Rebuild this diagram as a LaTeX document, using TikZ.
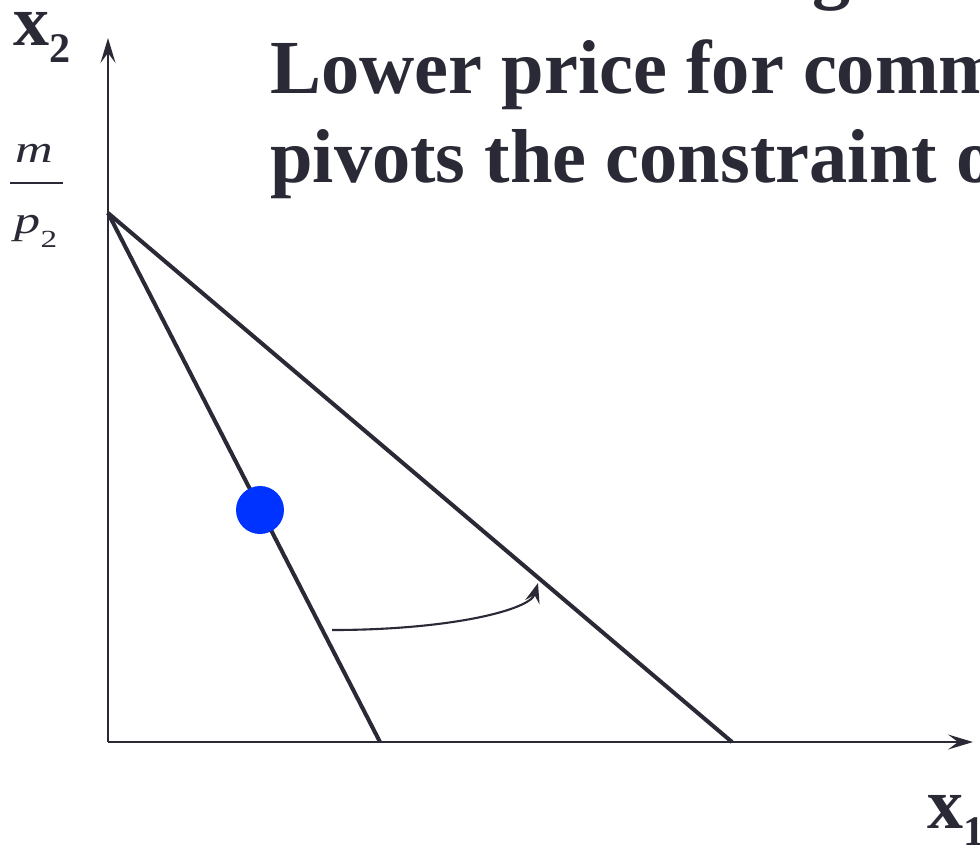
\documentclass[tikz,border=0pt]{standalone}
\usepackage{fontspec}
\setmainfont{Liberation Serif}
\usetikzlibrary{arrows.meta,positioning}
\definecolor{ink}{RGB}{42,42,54}
\definecolor{dotblue}{RGB}{0,51,255}

\begin{document}
\begin{tikzpicture}[x=0.02cm, y=-0.02cm,
    axis/.style={draw=ink, line width=1.2pt, -{Stealth[length=0.5cm, width=0.3cm, inset=0.2cm]}},
    budget/.style={draw=ink, line width=2.3pt},
    pivot/.style={draw=ink, line width=1.2pt, -{Stealth[length=0.4cm, width=0.3cm, inset=0.15cm]}},
    title/.style={anchor=base west, inner sep=0pt, text=ink, font=\fontsize{43.5}{50}\selectfont\bfseries},
    axlabel/.style={anchor=base west, inner sep=0pt, text=ink, font=\fontsize{41}{50}\selectfont\bfseries},
    frac/.style={anchor=base, inner sep=0pt, text=ink, font=\fontsize{22}{24}\selectfont\itshape},
    bundle/.style={circle, fill=dotblue, minimum size=0.96cm, inner sep=0pt}
]
\useasboundingbox (0,0) rectangle (980,850);
\clip (0,0) rectangle (980,850);

% title
\node[title] (gline) at (812,-6) {g};
\node[title] (title1) at (270,93) {Lower price for commodity 1};
\node[title] (title2) at (270,182) {pivots the constraint outward};

% axes
\coordinate (O) at (108,742);
\coordinate (ytop) at (108,38);
\coordinate (xend) at (973,742);
\draw[axis] (O) -- (ytop);
\draw[axis] (O) -- (xend);
\node[axlabel] (xtwo) at (13,45) {x\raisebox{-10pt}{\fontsize{24}{24}\selectfont 2}};
\node[axlabel] (xone) at (927,828) {x\raisebox{-10pt}{\fontsize{24}{24}\selectfont 1}};

% intercept m/p2
\node[frac] (num) at (34,162) {\scalebox{1.35}[1]{m}};
\node[frac] (den) at (36,233) {\scalebox{1.35}[1]{p\raisebox{-8pt}{\fontsize{14}{14}\selectfont\upshape 2}}};
\coordinate (barl) at (10,183);
\coordinate (barr) at (63,183);
\draw[ink, line width=0.9pt] (barl) -- (barr);

% budget lines
\coordinate (A) at (108,213);
\coordinate (B) at (380,742);
\coordinate (C) at (732,742);
\draw[budget] (A) -- (B);
\draw[budget] (A) -- (C);

% chosen bundle
\node[bundle] (dot) at (260,510) {};

% pivot arrow
\coordinate (p0) at (332,630);
\coordinate (p1) at (538,583);
\draw[pivot] (p0) .. controls (450,630) and (530,610) .. (p1);

\end{tikzpicture}
\end{document}
